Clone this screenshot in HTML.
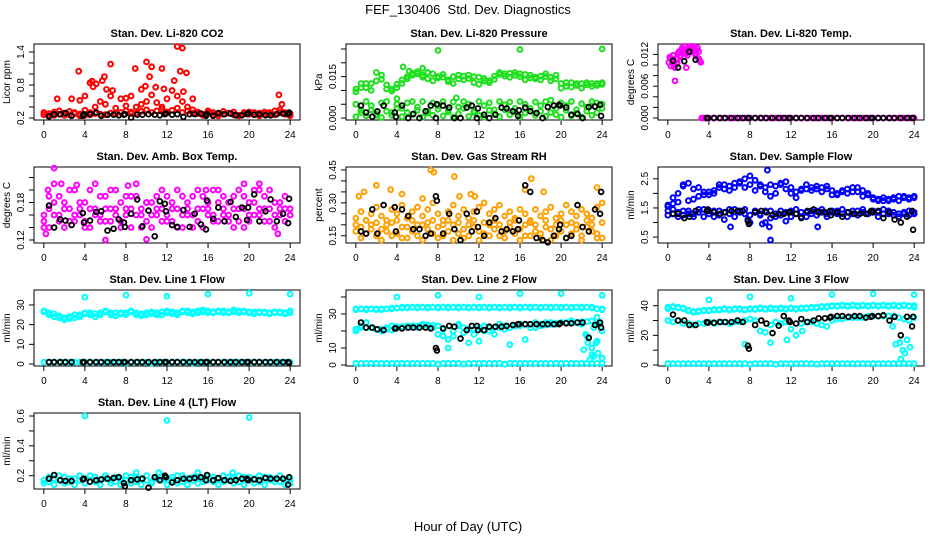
<!DOCTYPE html>
<html><head><meta charset="utf-8"><style>
html,body{margin:0;padding:0;background:#fff;}
svg{display:block;font-family:"Liberation Sans",sans-serif;}
</style></head><body>
<svg id="chart" width="936" height="540" viewBox="0 0 936 540" xmlns="http://www.w3.org/2000/svg">
<text x="468" y="14" text-anchor="middle" font-size="13">FEF_130406&#160; Std. Dev. Diagnostics</text>
<text x="468" y="531" text-anchor="middle" font-size="13">Hour of Day (UTC)</text>
</svg>
<script>
const hourGrid = Array.from({length:49},(_,i)=>i*0.5);
const xTicks = [0,4,8,12,16,20,24];
const blackHours = [0.5,1.0,1.6,2.1,2.7,3.8,3.9,4.5,5.1,5.6,6.2,6.8,7.3,7.8,7.9,8.5,9.1,9.6,10.2,10.8,11.3,11.8,11.9,12.5,13.0,13.6,14.2,14.7,15.3,15.8,15.9,16.5,17.0,17.6,18.2,18.7,19.3,19.8,19.9,20.5,21.0,21.6,22.1,22.7,23.3,23.8,23.9];

// P1 CO2
const co2Low = [0.26,0.28,0.25,0.27,0.29,0.26,0.28,0.27,0.25,0.3,0.28,0.27,0.26,0.29,0.28,0.3,0.33,0.31,0.29,0.32,0.35,0.3,0.33,0.36,0.31,0.34,0.38,0.3,0.33,0.29,0.28,0.27,0.3,0.26,0.28,0.27,0.29,0.26,0.25,0.28,0.27,0.26,0.29,0.27,0.28,0.26,0.3,0.27,0.24];
const co2Mid = [0.3,0.24,0.31,0.33,0.25,0.32,0.3,0.24,0.34,0.26,0.4,0.5,0.45,0.6,0.38,0.55,0.42,0.28,0.4,0.45,0.5,0.62,0.48,0.4,0.55,0.7,0.6,0.5,0.4,0.35,0.31,0.25,0.33,0.3,0.24,0.32,0.29,0.31,0.24,0.3,0.31,0.3,0.24,0.31,0.3,0.33,0.35,0.3,0.28];
const co2SpikeX = [1.3,2.7,3.4,3.5,4.0,4.5,4.7,4.8,5.1,5.7,5.9,6.1,6.5,6.7,8.0,8.5,8.9,9.5,9.9,10.0,10.3,10.5,10.9,11.5,11.7,12.7,13.0,13.3,13.5,13.6,13.9,14.5,22.9,23.2];
const co2SpikeY = [0.55,0.55,1.05,0.52,0.6,0.84,0.87,0.77,0.82,0.88,0.95,0.72,1.18,0.7,0.56,0.6,1.1,0.72,0.78,1.22,0.95,1.13,0.76,1.1,0.73,0.88,1.5,1.05,1.47,0.68,1.02,0.55,0.62,0.45];
const co2Black = [0.23,0.27,0.27,0.29,0.24,0.24,0.27,0.27,0.3,0.24,0.26,0.26,0.25,0.26,0.27,0.21,0.26,0.26,0.27,0.26,0.25,0.27,0.28,0.26,0.27,0.22,0.27,0.27,0.28,0.24,0.27,0.24,0.29,0.27,0.28,0.25,0.25,0.27,0.29,0.26,0.27,0.25,0.25,0.27,0.28,0.27,0.3];

// P2 Pressure
const presUp1 = [0.0105,0.0125,0.011,0.0125,0.0165,0.014,0.012,0.0105,0.011,0.0125,0.015,0.0155,0.016,0.0155,0.0165,0.016,0.015,0.0148,0.0138,0.015,0.0142,0.0152,0.0143,0.015,0.0148,0.0135,0.0128,0.014,0.0158,0.016,0.0162,0.0155,0.016,0.0158,0.0145,0.0148,0.0152,0.015,0.0147,0.0142,0.0125,0.0115,0.0128,0.0118,0.0125,0.012,0.0125,0.0118,0.0128];
const presUp2 = [0.0095,0.011,0.0125,0.01,0.0135,0.0155,0.0105,0.0098,0.0122,0.0138,0.0142,0.0162,0.0168,0.0148,0.0142,0.0135,0.0145,0.0158,0.0132,0.0125,0.0155,0.0138,0.0155,0.0128,0.0122,0.0143,0.0135,0.0152,0.0165,0.0152,0.0148,0.0165,0.015,0.0138,0.0155,0.0142,0.0138,0.016,0.0135,0.0155,0.0108,0.0128,0.0112,0.0125,0.0108,0.0128,0.0115,0.0125,0.0122];
const presLow1 = [0.005,0.003,0.006,0.0045,0.001,0.0055,0.006,0.002,0.005,0.0035,0.0055,0.006,0.004,0.006,0.0025,0.0055,0.0045,0.006,0.003,0.0058,0.004,0.006,0.005,0.002,0.006,0.0045,0.0055,0.003,0.006,0.0048,0.0058,0.0035,0.006,0.005,0.0025,0.0058,0.0045,0.006,0.0065,0.0035,0.0055,0.0045,0.006,0.003,0.0052,0.004,0.006,0.0055,0.005];
const presLow2 = [0.0005,0.002,0.0008,0.003,0.0015,0.0002,0.0025,0.001,0.0035,0.0005,0.002,0.0012,0.0028,0.0003,0.0018,0.001,0.0032,0.0008,0.0022,0.0004,0.0015,0.0035,0.0006,0.0025,0.001,0.0003,0.0028,0.0016,0.0005,0.003,0.0012,0.0022,0.0004,0.0018,0.0035,0.001,0.0025,0.0006,0.002,0.0012,0.0003,0.0028,0.0008,0.0018,0.0004,0.0025,0.001,0.002,0.0035];
const presOutX = [8.0,16.0,24,4.6,6.5,5.2,4.0,9.8];
const presOutY = [0.0245,0.0248,0.025,0.0185,0.018,0.017,0.007,0.0073];
const presBlack = [0.0045,0.002,0.0005,0.0024,0.0045,0.002,0.0005,0.0045,0,0.0015,0,0.0025,0.0045,0,0.005,0.0045,0.0038,0,0,0.0038,0.0045,0,0.0035,0.0012,0,0.0012,0.0038,0.0035,0.0025,0.0008,0.0028,0.0038,0.0025,0.0018,0,0.004,0.0045,0.0048,0.0045,0.0038,0.0012,0.0015,0,0.004,0.0042,0.0048,0.0008];

// P3 Temp
const tempHiX = [0.1,0.2,0.3,0.4,0.5,0.6,0.7,0.8,0.9,1.0,1.1,1.2,1.3,1.4,1.5,1.6,1.7,1.8,1.9,2.0,2.1,2.2,2.3,2.4,2.5,2.6,2.7,2.8,2.9,3.0,3.1,3.2,0.3,0.6,0.9,1.2,1.5,1.8,2.1,2.4,2.7,3.0,0.7];
const tempHiY = [0.0105,0.0115,0.0098,0.0108,0.0118,0.0102,0.0095,0.0112,0.011,0.0122,0.0125,0.0118,0.0128,0.0132,0.0125,0.0135,0.0128,0.0122,0.0118,0.0125,0.0132,0.0135,0.0128,0.0125,0.0135,0.013,0.0122,0.0128,0.0132,0.0125,0.0108,0.0105,0.0112,0.0098,0.0104,0.0115,0.0122,0.0095,0.0128,0.0132,0.0118,0.0112,0.007];
const tempZeroX = [3.3,3.5,3.7,4.0,4.5,5.0,5.5,6.0,6.5,7.0,7.5,8.0,8.5,9.0,9.5,10.0,10.5,11.0,11.5,12.0,12.5,13.0,13.5,14.0,14.5,15.0,15.5,16.0,16.5,17.0,17.5,18.0,18.5,19.0,19.5,20.0,20.5,21.0,21.5,22.0,22.5,23.0,23.5,24.0];
const tempZeroY = [0,0,0,0,0,0,0,0,0,0,0,0,0,0,0,0,0,0,0,0,0,0,0,0,0,0,0,0,0,0,0,0,0,0,0,0,0,0,0,0,0,0,0,0];
const tempBlack = [0.0108,0.0095,0.0107,0.0125,0.011,0,0,0,0,0,0,0,0,0,0,0,0,0,0,0,0,0,0,0,0,0,0,0,0,0,0,0,0,0,0,0,0,0,0,0,0,0,0,0,0,0,0];

// P4 Amb box temp
const ambA = [0.15,0.17,0.16,0.19,0.14,0.17,0.16,0.18,0.15,0.2,0.17,0.16,0.19,0.15,0.17,0.18,0.16,0.14,0.19,0.17,0.15,0.18,0.16,0.17,0.19,0.15,0.17,0.16,0.18,0.14,0.17,0.19,0.16,0.15,0.18,0.17,0.16,0.19,0.15,0.17,0.18,0.16,0.2,0.17,0.15,0.18,0.16,0.17,0.16];
const ambB = [0.16,0.14,0.18,0.15,0.17,0.2,0.15,0.16,0.18,0.14,0.16,0.19,0.15,0.17,0.2,0.15,0.17,0.19,0.16,0.14,0.18,0.16,0.19,0.15,0.16,0.18,0.2,0.14,0.16,0.19,0.15,0.17,0.18,0.2,0.15,0.16,0.18,0.14,0.17,0.19,0.15,0.18,0.16,0.19,0.17,0.16,0.18,0.15,0.17];
const ambC = [0.14,0.19,0.21,0.16,0.18,0.15,0.2,0.17,0.14,0.17,0.21,0.15,0.17,0.2,0.16,0.14,0.19,0.17,0.21,0.16,0.18,0.14,0.17,0.2,0.15,0.17,0.14,0.19,0.17,0.16,0.2,0.14,0.17,0.16,0.2,0.19,0.15,0.17,0.2,0.14,0.16,0.2,0.17,0.15,0.2,0.14,0.17,0.19,0.16];
const ambOutX = [1.0,1.7,0.4,3.2,6.0,10.0,15.8,19.5,21.0,22.8,0.2,8.2];
const ambOutY = [0.235,0.21,0.2,0.208,0.12,0.121,0.2,0.21,0.21,0.13,0.13,0.207];
const ambBlack = [0.175,0.14,0.153,0.151,0.144,0.163,0.148,0.151,0.165,0.166,0.135,0.138,0.153,0.148,0.141,0.162,0.185,0.142,0.167,0.126,0.182,0.178,0.166,0.144,0.141,0.168,0.141,0.162,0.145,0.137,0.183,0.154,0.172,0.15,0.181,0.157,0.172,0.152,0.172,0.193,0.15,0.166,0.185,0.15,0.162,0.147,0.186];

// P5 RH
const rhA = [0.17,0.19,0.16,0.2,0.15,0.18,0.17,0.21,0.16,0.14,0.19,0.17,0.15,0.2,0.18,0.16,0.19,0.15,0.17,0.2,0.16,0.18,0.15,0.19,0.17,0.16,0.2,0.18,0.15,0.17,0.19,0.16,0.18,0.2,0.15,0.17,0.16,0.19,0.18,0.15,0.17,0.2,0.16,0.18,0.15,0.19,0.17,0.16,0.14];
const rhB = [0.23,0.26,0.22,0.25,0.28,0.24,0.22,0.27,0.25,0.29,0.23,0.26,0.28,0.24,0.27,0.3,0.25,0.22,0.26,0.29,0.24,0.27,0.23,0.26,0.28,0.3,0.25,0.27,0.29,0.24,0.26,0.23,0.27,0.25,0.22,0.27,0.24,0.26,0.28,0.23,0.25,0.29,0.26,0.24,0.27,0.25,0.23,0.28,0.3];
const rhC = [0.2,0.14,0.22,0.18,0.21,0.13,0.2,0.15,0.22,0.19,0.14,0.22,0.2,0.13,0.21,0.22,0.14,0.2,0.22,0.13,0.21,0.14,0.2,0.22,0.13,0.21,0.15,0.22,0.2,0.14,0.21,0.22,0.13,0.15,0.21,0.2,0.14,0.22,0.13,0.2,0.22,0.14,0.21,0.2,0.13,0.22,0.2,0.14,0.21];
const rhOutX = [0.3,2.0,3.4,4.5,7.3,7.6,9.6,10.1,11.2,11.6,17.1,16.5,18.3,23.5,0.8,6.5];
const rhOutY = [0.33,0.38,0.36,0.34,0.45,0.44,0.42,0.33,0.34,0.33,0.41,0.36,0.35,0.37,0.35,0.32];
const rhBlack = [0.17,0.16,0.27,0.16,0.29,0.28,0.17,0.27,0.24,0.18,0.18,0.15,0.16,0.33,0.31,0.16,0.25,0.18,0.13,0.25,0.17,0.26,0.19,0.15,0.21,0.23,0.17,0.18,0.17,0.18,0.22,0.38,0.35,0.14,0.13,0.12,0.15,0.18,0.2,0.14,0.15,0.29,0.19,0.17,0.27,0.25,0.35];

// P6 Sample flow
const sfA = [1.4,1.3,1.35,1.25,1.4,1.3,1.35,1.45,1.3,1.4,1.25,1.35,1.3,1.45,1.35,1.3,1.25,1.35,1.3,1.4,1.15,1.3,1.25,1.35,1.4,1.3,1.2,1.35,1.3,1.4,1.35,1.3,1.35,1.4,1.3,1.35,1.3,1.4,1.35,1.3,1.4,1.35,1.3,1.4,1.35,1.3,1.35,1.4,1.3];
const sfB = [1.25,1.45,1.2,1.4,1.3,1.2,1.45,1.2,1.4,1.2,1.4,1.1,1.45,1.2,1.4,1.45,1.0,1.4,1.25,1.0,1.4,1.2,1.4,1.05,1.2,1.45,1.35,1.2,1.4,1.25,1.45,1.2,1.4,1.3,1.45,1.2,1.4,1.25,1.45,1.3,1.35,1.2,1.45,1.3,1.25,1.2,1.3,1.25,1.35];
const sfUp1 = [1.55,1.85,1.7,2.3,2.35,1.8,2.2,2.05,1.95,2.0,2.2,2.3,2.1,2.2,2.35,2.5,2.3,2.45,2.25,2.2,2.3,2.0,2.3,2.4,2.2,1.85,2.1,2.15,2.2,2.15,2.2,2.25,1.95,2.0,2.1,2.15,2.05,2.2,2.1,2.0,1.85,1.8,1.75,1.8,1.85,1.9,1.85,1.85,1.9];
const sfUp2 = [1.6,1.65,2.0,2.25,1.75,2.15,1.9,1.95,2.05,2.1,2.3,2.15,2.25,2.35,2.4,2.2,2.6,2.1,2.3,2.05,1.9,2.25,2.35,2.15,2.0,2.05,2.15,2.3,2.1,2.25,2.05,2.15,2.1,1.95,2.05,2.0,2.2,2.05,1.9,1.95,1.8,1.75,1.85,1.75,1.8,1.75,1.9,1.8,1.85];
const sfOutX = [9.7,10.0,6.1,9.9,14.6,7.8,9.2];
const sfOutY = [2.8,0.4,0.85,0.85,0.85,1.1,0.95];
const sfBlack = [1.3,1.3,1.15,1.2,1.4,1.4,1.45,1.35,1.3,1.35,1.4,1.4,1.4,1.05,0.95,1.35,1.4,1.35,1.25,1.3,1.3,1.35,1.35,1.3,1.15,1.4,1.45,1.35,1.35,1.4,1.25,1.35,1.2,1.35,1.3,1.3,1.3,1.4,1.35,1.4,1.15,1.35,1.1,1.0,1.2,1.4,0.75];

// Line flows
const lineLow = [1,1,1,1,1,1,1,1,1,1,1,1,1,1,1,1,0.5,1,1,1,1,0.5,1,1,1,1,1,1,1,0.5,1,1,1,1,1,1,1,1,1,1,1,1,1,1,1,1,1,1,1];
const l1A = [26.5,26,25.5,24.5,23.5,24,23.5,25,25.5,26,25.5,26,26.5,26,26,25.5,26,26.5,26,25.5,26,25.5,26,26.5,26,26.5,26,26.5,27,26.5,27,26.5,27,26.5,26.5,27,26.5,26.5,27,26.5,26,26.5,26.5,26,26,26.5,26,26,26];
const l1B = [27,25,24,23.5,22.5,23,25,24,26,25,24,25,27,25,24.5,26,25,27,25,24.5,25,26.5,25,25,27,25.5,25,27,26,25.5,26,27.5,26,26,27,26,26,27.5,26,27,26.5,25.5,26,26.5,25.5,26,26.5,25.5,27];
const l1OutX = [4,8,12,16,20,24];
const l1OutY = [34,35,34.5,35.5,36,35.5];
const l1Black = [1,1,1,1,1,1,1,1,1,1,1,1,1,1,1,1,1,1,1,1,1,1,1,1,1,1,1,1,1,1,1,1,1,1,1,1,1,1,1,1,1,1,1,1,1,1,0.5];

const l2Top = [33,33,33,33,33,33,33,33.5,33.5,34,34,34,34,34,34,34,34,34,34,34,34,34,34,34,34,34,34,34,34,34,34,34,34,34,34,34,34,34,34,34,34,34,34,34,34,34,34,33,33];
const l2Top2 = [32.5,33,32.5,33,32.5,32.5,33,33,33.5,33.5,33.5,34,33.5,34,33.5,34,33.5,34,33.5,34,33.5,34,33.5,34,33.5,34,33.5,34,33.5,34,33.5,34,33.5,34,33.5,34,33.5,34,33.5,34,33.5,34,33.5,34,33.5,34,33.5,33,32.5];
const l2Mid = [21,22,25,22,21,21,21,20.5,22,22,22,23,23,23,23.5,23.5,23,21,15,17,24,19,21,18,14,20,22,18,24,21,12,23,24,15,22,22,23,23.5,24,24.5,25,25,25,25,25.5,25.5,26,24,20];
const l2Mid2 = [20,23,22,22,21,20,22,23,22.5,22.5,23,23,22,24,23,22,18,17,10,20,23,22,13,21,22,23,20,22,22,23,22,23,23,24,24,25,24,25,25,24,25,25,26,25,24,17,10,14,4];
const l2OutX = [4,8,12,16,20,24,22.2,22.4,22.6,22.8,23.0,23.2,23.4,23.6,23.7,23.5,23.2];
const l2OutY = [40,41,40,42,42,41,9,18,13,3,6,5,13,7,24,28,22];
const l2Black = [25,22,22,21,20.5,21.5,21.5,21.5,22,22,22,22,21.5,10,8.5,21.5,23,22.5,15.5,20.5,23,23,20.5,20.5,22.5,22.5,22.5,23,23.5,24,24,24,24,24,24,24,24,24,24.5,24.5,24.5,25,25,16,23.5,25,22];

const l3Top = [39,39,39,38.5,37,36,36,36.5,37,37,37.5,37.5,37.5,38,37.5,37.5,37.5,38,38,38,38,38,38,38,38,38,38,38.5,38.5,39,39,39.5,39.5,40,40,40,40,40,40,40,40,40,40,40,40,40,40,40,40];
const l3Top2 = [38,39.5,38.5,38,36.5,35.5,36.5,37,36.5,37.5,37,38,37,37.5,38,37,38,37.5,38.5,37.5,38.5,37.5,38.5,37.5,38.5,37.5,38.5,38,39,38.5,39.5,39,40,39.5,40.5,39.5,40.5,39.5,40.5,39.5,40.5,39.5,40.5,39.5,40.5,39.5,40.5,39.5,39];
const l3Mid = [30,29,30,28,28,27,28,28,29,28,29,29,28,29,29,30,31,30,23,22,27,29,28,29,24,20,28,29,29,28,27,26,30,31,31,32,32,32,32,33,33,33,33,33,33,32,31,30,32];
const l3OutX = [4,8,12,16,20,24,7.5,10,11.6,13.1,21.9,22.2,22.6,22.9,23.1,23.3,23.6,22.7];
const l3OutY = [44,46,45,47.5,48,47.5,14,15,17,23,26,14,15,10,8,17,12,4];
const l3Black = [34,30,30,27,27,29,28.5,28.5,29,29,29,30,29,13,11,27,30,28,21.5,26.5,33,30,29,28,31,29,30,31.5,31.5,32,32.5,33,33,32.5,33,33,32,32.5,33,33,33.5,30,32.5,20,32.5,26,32.5];

const l4A = [0.17,0.16,0.18,0.17,0.19,0.16,0.18,0.17,0.18,0.2,0.16,0.17,0.18,0.17,0.16,0.18,0.17,0.19,0.16,0.18,0.17,0.16,0.19,0.17,0.18,0.17,0.2,0.16,0.18,0.17,0.19,0.18,0.17,0.16,0.18,0.2,0.17,0.18,0.16,0.19,0.17,0.18,0.16,0.19,0.17,0.18,0.16,0.17,0.18];
const l4B = [0.15,0.19,0.14,0.2,0.15,0.18,0.14,0.2,0.15,0.16,0.19,0.14,0.2,0.15,0.19,0.14,0.2,0.15,0.19,0.14,0.2,0.15,0.18,0.2,0.14,0.19,0.15,0.2,0.14,0.19,0.15,0.16,0.2,0.19,0.14,0.16,0.19,0.15,0.2,0.14,0.19,0.15,0.2,0.14,0.19,0.16,0.2,0.14,0.15];
const l4OutX = [4,12,20,9,18.4,11.2,15];
const l4OutY = [0.6,0.57,0.59,0.22,0.22,0.22,0.22];
const l4Black = [0.18,0.205,0.17,0.165,0.165,0.175,0.18,0.16,0.17,0.175,0.18,0.185,0.19,0.15,0.13,0.17,0.175,0.18,0.12,0.19,0.17,0.2,0.19,0.155,0.17,0.18,0.18,0.185,0.19,0.17,0.205,0.17,0.185,0.17,0.165,0.17,0.18,0.18,0.17,0.175,0.17,0.185,0.18,0.18,0.18,0.14,0.19];

const GREEN='#1ee01e', RED='#ff0000', MAG='#ff00ff', BLUE='#0000ff', CY='#00ffff', OR='#ffa000', BK='#000000';
const panels = [
 {key:'co2',title:'Stan. Dev. Li-820 CO2',ylab:'Licor ppm',col:0,row:0,ymin:0.164,ymax:1.545,ticks:[0.2,0.4,0.6,0.8,1.0,1.2,1.4],labels:[0.2,0.8,1.4],fmt:1,
  series:[[hourGrid,co2Low,RED],[hourGrid,co2Mid,RED],[co2SpikeX,co2SpikeY,RED],[blackHours,co2Black,BK]]},
 {key:'pressure',title:'Stan. Dev. Li-820 Pressure',ylab:'kPa',col:1,row:0,ymin:-0.0007,ymax:0.0268,ticks:[0,0.005,0.01,0.015,0.02,0.025],labels:[0,0.015],fmt:3,
  series:[[hourGrid,presLow2,GREEN],[hourGrid,presLow1,GREEN],[hourGrid,presUp1,GREEN],[hourGrid,presUp2,GREEN],[presOutX,presOutY,GREEN],[blackHours,presBlack,BK]]},
 {key:'temp',title:'Stan. Dev. Li-820 Temp.',ylab:'degrees C',col:2,row:0,ymin:-0.00038,ymax:0.01396,ticks:[0,0.002,0.004,0.006,0.008,0.01,0.012],labels:[0,0.006,0.012],fmt:3,
  series:[[tempHiX,tempHiY,MAG],[tempZeroX,tempZeroY,MAG],[blackHours,tempBlack,BK]]},
 {key:'ambbox',title:'Stan. Dev. Amb. Box Temp.',ylab:'degrees C',col:0,row:1,ymin:0.1152,ymax:0.2368,ticks:[0.12,0.14,0.16,0.18,0.2,0.22],labels:[0.12,0.18],fmt:2,
  series:[[hourGrid,ambA,MAG],[hourGrid,ambB,MAG],[hourGrid,ambC,MAG],[ambOutX,ambOutY,MAG],[blackHours,ambBlack,BK]]},
 {key:'rh',title:'Stan. Dev. Gas Stream RH',ylab:'percent',col:1,row:1,ymin:0.117,ymax:0.4635,ticks:[0.15,0.2,0.25,0.3,0.35,0.4,0.45],labels:[0.15,0.3,0.45],fmt:2,
  series:[[hourGrid,rhA,OR],[hourGrid,rhC,OR],[hourGrid,rhB,OR],[rhOutX,rhOutY,OR],[blackHours,rhBlack,BK]]},
 {key:'sampleflow',title:'Stan. Dev. Sample Flow',ylab:'ml/min',col:2,row:1,ymin:0.297,ymax:2.905,ticks:[0.5,1,1.5,2,2.5],labels:[0.5,1.5,2.5],fmt:1,
  series:[[hourGrid,sfA,BLUE],[hourGrid,sfB,BLUE],[hourGrid,sfUp1,BLUE],[hourGrid,sfUp2,BLUE],[sfOutX,sfOutY,BLUE],[blackHours,sfBlack,BK]]},
 {key:'line1',title:'Stan. Dev. Line 1 Flow',ylab:'ml/min',col:0,row:2,ymin:-1.0,ymax:37.6,ticks:[0,10,20,30],labels:[0,10,20,30],fmt:0,
  series:[[hourGrid,lineLow,CY],[hourGrid,l1A,CY],[hourGrid,l1B,CY],[l1OutX,l1OutY,CY],[blackHours,l1Black,BK]]},
 {key:'line2',title:'Stan. Dev. Line 2 Flow',ylab:'ml/min',col:1,row:2,ymin:-0.6,ymax:44.1,ticks:[0,10,20,30,40],labels:[0,10,30],fmt:0,
  series:[[hourGrid,lineLow,CY],[hourGrid,l2Top,CY],[hourGrid,l2Top2,CY],[hourGrid,l2Mid,CY],[hourGrid,l2Mid2,CY],[l2OutX,l2OutY,CY],[blackHours,l2Black,BK]]},
 {key:'line3',title:'Stan. Dev. Line 3 Flow',ylab:'ml/min',col:2,row:2,ymin:-0.7,ymax:50.6,ticks:[0,10,20,30,40],labels:[0,20,40],fmt:0,
  series:[[hourGrid,lineLow,CY],[hourGrid,l3Top,CY],[hourGrid,l3Top2,CY],[hourGrid,l3Mid,CY],[l3OutX,l3OutY,CY],[blackHours,l3Black,BK]]},
 {key:'line4',title:'Stan. Dev. Line 4 (LT) Flow',ylab:'ml/min',col:0,row:3,ymin:0.111,ymax:0.62,ticks:[0.2,0.3,0.4,0.5,0.6],labels:[0.2,0.4,0.6],fmt:1,
  series:[[hourGrid,l4A,CY],[hourGrid,l4B,CY],[l4OutX,l4OutY,CY],[blackHours,l4Black,BK]]}
];

const NS='http://www.w3.org/2000/svg';
const svg=document.getElementById('chart');
function mk(tag,attrs,parent){const e=document.createElementNS(NS,tag);for(const k in attrs)e.setAttribute(k,attrs[k]);(parent||svg).appendChild(e);return e;}
const colX=[34,346,658], rowY=[44,167,290,413], W=266, H=76;
panels.forEach(p=>{
  const L=colX[p.col], T=rowY[p.row], B=T+H, R=L+W;
  const xs=v=>L+(v+0.96)/25.92*W;
  const ys=v=>B-(v-p.ymin)/(p.ymax-p.ymin)*H;
  const g=mk('g',{});
  
  
  const t=mk('text',{x:(L+R)/2,y:T-7,'text-anchor':'middle','font-size':'11','font-weight':'bold'},g);
  t.textContent=p.title;
  
  
  const box=mk('rect',{x:L,y:T,width:W,height:H,fill:'none',stroke:'#000','stroke-width':1},g);
  
  
  xTicks.forEach(v=>{
    mk('line',{x1:xs(v),x2:xs(v),y1:B,y2:B+5,stroke:'#000'},g);
    const tl=mk('text',{x:xs(v),y:B+18,'text-anchor':'middle','font-size':'10'},g);
    tl.textContent=v;
    
    
  });
  p.ticks.forEach(v=>{ mk('line',{x1:L-5,x2:L,y1:ys(v),y2:ys(v),stroke:'#000'},g); });
  p.labels.forEach(v=>{
    const yy=ys(v), xx=L-10;
    const tl=mk('text',{x:xx,y:yy,'text-anchor':'middle','font-size':'10',transform:`rotate(-90 ${xx} ${yy})`},g);
    tl.textContent=v.toFixed(p.fmt);
    
    
  });
  const yx=L-24, yy=(T+B)/2;
  const yt=mk('text',{x:yx,y:yy,'text-anchor':'middle','font-size':'10',transform:`rotate(-90 ${yx} ${yy})`},g);
  yt.textContent=p.ylab;
  
  
  p.series.forEach(([X,Y,c])=>{
    const sg=mk('g',{fill:'none',stroke:c,'stroke-width':c===BK?1.8:2},g);
    
    
    for(let i=0;i<Y.length&&i<X.length;i++){
      if(Y[i]==null)continue;
      const pt=mk('circle',{cx:xs(X[i]).toFixed(1),cy:ys(Y[i]).toFixed(1),r:2.4},sg);
      
      
    }
  });
});
</script>
</body></html>
